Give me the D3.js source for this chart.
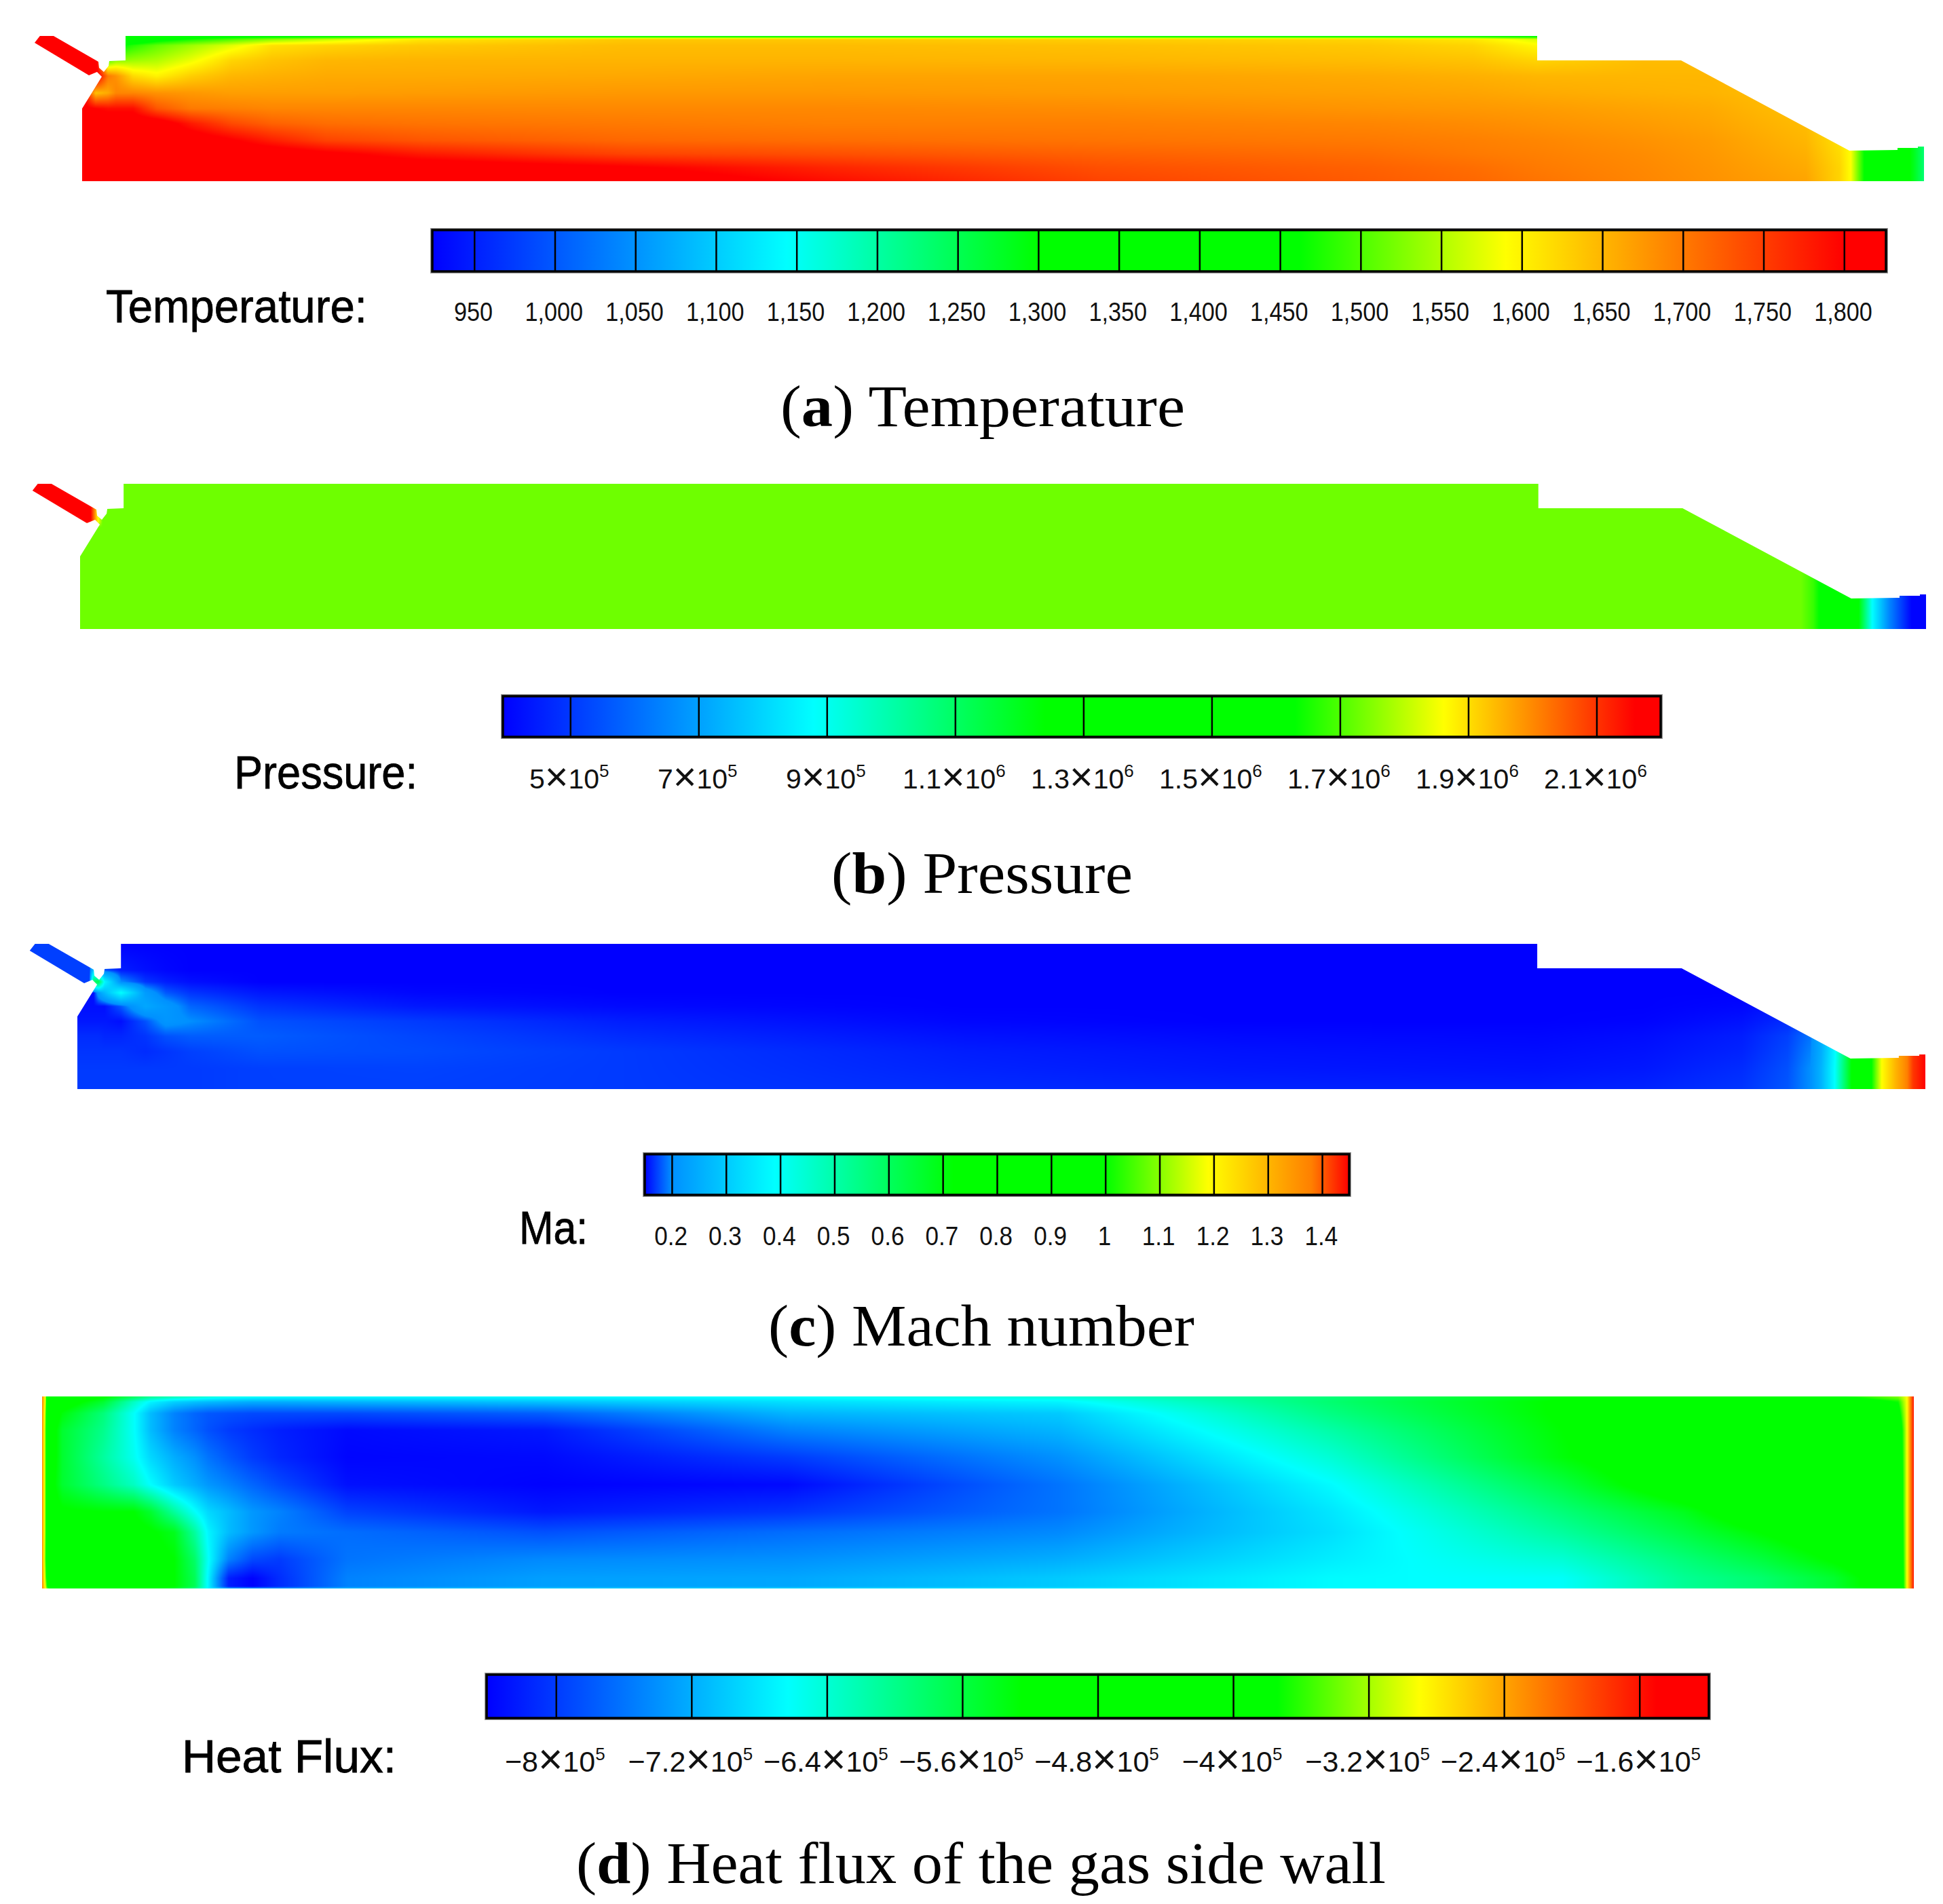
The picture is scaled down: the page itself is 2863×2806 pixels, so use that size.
<!DOCTYPE html>
<html>
<head>
<meta charset="utf-8">
<style>
  html, body { margin: 0; padding: 0; background: #fff; overflow: hidden; }
  svg { display: block; }
</style>
</head>
<body>
<div id="chart"></div>
<script src="https://d3js.org/d3.v7.min.js"></script>
<script>
// wall shape of the chamber, shared by panels a, b, c
const outlineX = [0, 0, 29, 22, 10, -70, -56, 24, 25, 32, 39, 40, 64, 64, 2144, 2144, 2356, 2604, 2675, 2675, 2705, 2705, 2714, 2714];
const outlineY = [0, 107, 154, 161, 156, 204, 222, 176, 167, 161, 170, 177, 178, 214, 214, 178, 178, 45, 46, 49, 49, 51, 51, 0];
const wallOutlineX = [0, 0, 2758, 2758];
const wallOutlineY = [0, 283, 283, 0];

const rainbow = ['#0000ff', '#00ffff', '#00ff00', '#00ff00', '#ffff00', '#ff0000', '#ff0000'];
const machColors = ['#0000ff', '#0090ff', '#00ffff', '#00ff00', '#00ff00', '#ffff00', '#ff8000', '#ff0000'];

// temperature
const tempStops = [924, 1144, 1300, 1462, 1590, 1800, 1826];
const tempTicks = [950, 1000, 1050, 1100, 1150, 1200, 1250, 1300, 1350, 1400, 1450, 1500, 1550, 1600, 1650, 1700, 1750, 1800];
const tempLabels = ['950', '1,000', '1,050', '1,100', '1,150', '1,200', '1,250', '1,300', '1,350', '1,400', '1,450', '1,500', '1,550', '1,600', '1,650', '1,700', '1,750', '1,800'];
const tempX = [-70, 0, 20, 38, 50, 75, 110, 160, 220, 280, 360, 500, 800, 1100, 1500, 1900, 2050, 2144, 2300, 2400, 2540, 2590, 2606, 2626, 2680, 2700, 2714];
const tempY = [0, 20, 40, 60, 85, 107, 130, 155, 178, 200, 209, 214];
const tempRows = [
  [1830,1830,1830,1830,1830,1830,1830,1830,1830,1830,1830,1830,1830,1790,1745,1725,1715,1705,1690,1680,1665,1625,1590,1462,1340,1280,1230],
  [1830,1830,1830,1830,1830,1830,1830,1830,1830,1830,1830,1830,1805,1770,1735,1720,1710,1700,1688,1678,1660,1625,1590,1462,1340,1280,1230],
  [1830,1830,1830,1830,1830,1830,1830,1830,1830,1830,1810,1780,1745,1735,1720,1710,1700,1695,1685,1675,1655,1620,1590,1462,1340,1280,1230],
  [1830,1830,1830,1830,1830,1830,1830,1830,1805,1775,1745,1730,1715,1710,1705,1700,1695,1690,1680,1672,1650,1615,1590,1462,1340,1280,1230],
  [1830,1830,1830,1830,1830,1830,1830,1780,1740,1720,1710,1705,1700,1695,1695,1690,1685,1680,1672,1665,1645,1610,1585,1462,1340,1280,1230],
  [1830,1810,1800,1790,1790,1790,1730,1700,1695,1690,1690,1690,1688,1688,1685,1678,1675,1672,1665,1660,1640,1605,1585,1462,1340,1280,1230],
  [1830,1830,1640,1660,1690,1690,1680,1675,1670,1670,1670,1672,1675,1675,1672,1668,1665,1660,1655,1652,1640,1605,1585,1462,1340,1280,1230],
  [1830,1830,1830,1700,1680,1620,1600,1630,1650,1655,1660,1660,1662,1665,1665,1660,1655,1650,1650,1650,1640,1605,1585,1462,1340,1280,1230],
  [1830,1830,1830,1500,1530,1540,1550,1580,1625,1640,1650,1652,1652,1652,1650,1645,1640,1625,1645,1645,1640,1605,1585,1462,1340,1280,1230],
  [1830,1830,1830,1440,1450,1480,1510,1540,1575,1615,1625,1635,1645,1645,1642,1635,1625,1595,1640,1640,1640,1605,1585,1462,1340,1280,1230],
  [1830,1830,1830,1380,1380,1400,1440,1470,1500,1530,1560,1610,1635,1635,1630,1625,1610,1570,1640,1640,1640,1605,1585,1462,1340,1280,1230],
  [1830,1830,1830,1400,1400,1400,1420,1430,1430,1430,1430,1430,1430,1430,1430,1430,1430,1430,1640,1640,1640,1605,1585,1462,1340,1280,1230]
];

// pressure, in units of 10^5
const presStops = [3.95, 8.8, 12.4, 16.3, 18.62, 21.6, 22.0];
const presTicks = [5, 7, 9, 11, 13, 15, 17, 19, 21];
const presLabels = ['5×10^5', '7×10^5', '9×10^5', '1.1×10^6', '1.3×10^6', '1.5×10^6', '1.7×10^6', '1.9×10^6', '2.1×10^6'];
const presX = [-70, 15, 25, 33, 2530, 2548, 2562, 2606, 2615, 2635, 2660, 2693, 2714];
const presY = [0, 150, 158, 214];
const presRows = [
  [17.3,17.3,17.3,17.3,17.3,16.8,16,13,12.4,8.8,6.5,4,4],
  [17.3,17.3,17.3,17.3,17.3,16.8,16,13,12.4,8.8,6.5,4,4],
  [21.8,21.8,19,17.3,17.3,16.8,16,13,12.4,8.8,6.5,4,4],
  [21.8,21.8,19,17.3,17.3,16.8,16,13,12.4,8.8,6.5,4,4]
];

// mach number
const machStops = [0.15, 0.2, 0.39, 0.72, 1.0, 1.19, 1.38, 1.45];
const machTicks = [0.2, 0.3, 0.4, 0.5, 0.6, 0.7, 0.8, 0.9, 1, 1.1, 1.2, 1.3, 1.4];
const machLabels = ['0.2', '0.3', '0.4', '0.5', '0.6', '0.7', '0.8', '0.9', '1', '1.1', '1.2', '1.3', '1.4'];
const machX = [-70, 0, 18, 24, 31, 40, 64, 100, 130, 166, 269, 500, 800, 1300, 1700, 2144, 2300, 2445, 2512, 2545, 2561, 2581, 2608, 2635, 2650, 2670, 2696, 2714];
const machY = [0, 30, 55, 78, 100, 122, 142, 158, 175, 214];
const machRows = [
  [.17,.17,.17,.17,.17,.17,.17,.17,.17,.17,.172,.172,.17,.165,.162,.16,.162,.168,.18,.2,.26,.39,.75,1,1.19,1.3,1.42,1.45],
  [.17,.17,.17,.17,.17,.17,.17,.17,.17,.17,.172,.173,.17,.162,.158,.156,.158,.165,.178,.2,.26,.39,.75,1,1.19,1.3,1.42,1.45],
  [.168,.168,.168,.168,.168,.168,.168,.165,.168,.172,.178,.176,.17,.16,.156,.154,.156,.162,.175,.195,.25,.38,.75,1,1.19,1.3,1.42,1.45],
  [.165,.165,.165,.165,.165,.163,.163,.168,.178,.182,.182,.174,.165,.156,.153,.152,.154,.16,.172,.19,.25,.37,.75,1,1.19,1.3,1.42,1.45],
  [.158,.158,.158,.158,.158,.158,.155,.178,.21,.2,.178,.17,.16,.152,.15,.15,.151,.156,.165,.18,.23,.34,.75,1,1.19,1.3,1.42,1.45],
  [.155,.155,.155,.155,.155,.155,.18,.24,.215,.185,.168,.158,.153,.15,.15,.15,.15,.152,.16,.17,.2,.3,.75,1,1.19,1.3,1.42,1.45],
  [.155,.155,.155,.155,.22,.27,.39,.22,.18,.168,.158,.152,.15,.15,.15,.15,.15,.15,.15,.15,.15,.15,.15,.15,.15,.15,.15,.15],
  [.172,.172,.172,.6,.62,.38,.2,.168,.16,.155,.15,.15,.15,.15,.15,.15,.15,.15,.15,.15,.15,.15,.15,.15,.15,.15,.15,.15],
  [.172,.172,.172,.3,.2,.18,.16,.155,.152,.15,.15,.15,.15,.15,.15,.15,.15,.15,.15,.15,.15,.15,.15,.15,.15,.15,.15,.15],
  [.172,.172,.172,.16,.15,.15,.15,.15,.15,.15,.15,.15,.15,.15,.15,.15,.15,.15,.15,.15,.15,.15,.15,.15,.15,.15,.15,.15]
];

// heat flux, in units of 10^5. rows run from the top edge down
const heatStops = [-8.41, -6.63, -5.25, -3.74, -2.9, -1.5, -1.19];
const heatTicks = [-8, -7.2, -6.4, -5.6, -4.8, -4, -3.2, -2.4, -1.6];
const heatLabels = ['−8×10^5', '−7.2×10^5', '−6.4×10^5', '−5.6×10^5', '−4.8×10^5', '−4×10^5', '−3.2×10^5', '−2.4×10^5', '−1.6×10^5'];
const heatX = [0, 5, 8, 30, 90, 135, 160, 195, 225, 245, 275, 310, 350, 450, 740, 1100, 1500, 1900, 2240, 2420, 2530, 2640, 2735, 2748, 2758];
const heatY = [0, 8, 25, 50, 90, 130, 170, 200, 240, 268, 280, 283];
const heatRows = [
  [-2.2,-3,-4.5,-4.8,-5.2,-5.7,-6,-6.2,-6.3,-6.4,-6.5,-6.55,-6.6,-6.63,-6.63,-6.6,-6.4,-5.9,-5.3,-4.8,-3.9,-3.8,-3.3,-2.9,-1.6],
  [-2.2,-3,-4.6,-5,-5.5,-6.3,-6.7,-6.95,-7.05,-7.1,-7.15,-7.2,-7.2,-7.15,-7.05,-6.85,-6.7,-5.85,-5.2,-4.8,-4.3,-4.3,-3.7,-2.9,-1.6],
  [-2.2,-3.2,-4.8,-5.3,-5.9,-6.6,-7.1,-7.5,-7.7,-7.8,-7.85,-7.9,-7.9,-7.9,-7.75,-7.15,-7,-5.95,-5.2,-4.8,-4.5,-4.5,-4,-2.9,-1.6],
  [-2.2,-3.3,-4.9,-5.5,-6,-6.6,-7.1,-7.5,-7.7,-7.85,-8,-8.1,-8.2,-8.35,-8.25,-7.5,-7.15,-6.15,-5.25,-4.8,-4.6,-4.6,-4.4,-2.9,-1.6],
  [-2.2,-3.3,-4.9,-5.5,-6.1,-6.55,-6.9,-7.2,-7.4,-7.6,-7.8,-8,-8.15,-8.38,-8.35,-8,-7.4,-6.4,-5.3,-4.8,-4.7,-4.6,-4.5,-2.9,-1.6],
  [-2.2,-3.3,-5,-5.5,-5.95,-6.3,-6.63,-7,-7.2,-7.35,-7.5,-7.7,-7.9,-8.3,-8.4,-8.35,-7.6,-6.65,-5.6,-4.9,-4.75,-4.7,-4.6,-2.9,-1.6],
  [-2.2,-3.3,-5,-5.2,-5.25,-5.25,-5.5,-6.1,-6.6,-6.9,-7.1,-7.35,-7.5,-7.95,-8.25,-8.05,-7.6,-6.8,-5.9,-5.4,-4.9,-4.7,-4.6,-2.9,-1.6],
  [-2.2,-3.3,-5,-5.1,-5.1,-5.1,-5.2,-5.4,-6.1,-6.7,-7.1,-7.35,-7.55,-7.65,-7.85,-7.65,-7.45,-6.85,-6.1,-5.6,-5.25,-4.9,-4.7,-2.9,-1.6],
  [-2.2,-3.4,-4.9,-5,-5,-5,-5.1,-5.25,-5.8,-6.6,-7.5,-7.9,-8,-7.6,-7.45,-7.4,-7.2,-6.75,-6.4,-5.9,-5.6,-5.2,-4.8,-2.9,-1.6],
  [-2.2,-3.2,-4.2,-5,-5,-5,-5.1,-5.25,-5.7,-6.7,-8.2,-8.4,-8.1,-7.5,-7.3,-7.25,-7,-6.65,-6.6,-6.05,-5.85,-5.5,-4.9,-2.9,-1.6],
  [-2.2,-3,-3.8,-5,-5,-5,-5.1,-5.25,-5.7,-6.7,-8.2,-8.4,-8.1,-7.5,-7.3,-7.25,-7,-6.65,-6.6,-6.05,-5.85,-5.5,-4.9,-2.9,-1.6],
  [-2.2,-2.9,-3.5,-5,-5.1,-5.2,-5.3,-5.5,-6,-6.7,-7.2,-7.3,-7.3,-7.1,-7,-6.9,-6.8,-6.65,-6.63,-6.1,-5.9,-5.6,-5.2,-2.9,-1.6]
];

const panels = [
  { id: 'a', gx: tempX, gy: tempY, rows: tempRows, stops: tempStops, colors: rainbow, ticks: tempTicks, labels: tempLabels,
    ox: outlineX, oy: outlineY, xDomain: [0, 2714], xRange: [121, 2835], yDomain: [0, 214], yRange: [267, 53],
    bar: [637, 2779, 339, 400], labelY: 473, labelSize: 38, labelStretch: 0.9,
    name: 'Temperature:', nameX: [156, 541], nameY: 475,
    letter: 'a', rest: ' Temperature', capX: [1150, 1746], capY: 628 },
  { id: 'b', gx: presX, gy: presY, rows: presRows, stops: presStops, colors: rainbow, ticks: presTicks, labels: presLabels,
    ox: outlineX, oy: outlineY, xDomain: [0, 2714], xRange: [118, 2838], yDomain: [0, 214], yRange: [927, 713],
    bar: [741, 2447, 1026, 1086], labelY: 1162, labelSize: 41, labelStretch: 1,
    name: 'Pressure:', nameX: [345, 615], nameY: 1162,
    letter: 'b', rest: ' Pressure', capX: [1225, 1669], capY: 1316 },
  { id: 'c', gx: machX, gy: machY, rows: machRows, stops: machStops, colors: machColors, ticks: machTicks, labels: machLabels,
    ox: outlineX, oy: outlineY, xDomain: [0, 2714], xRange: [114, 2837], yDomain: [0, 214], yRange: [1605, 1391],
    bar: [950, 1988, 1701, 1761], labelY: 1835, labelSize: 39, labelStretch: 0.9,
    name: 'Ma:', nameX: [765, 866], nameY: 1833,
    letter: 'c', rest: ' Mach number', capX: [1132, 1760], capY: 1983 },
  { id: 'd', gx: heatX, gy: heatY, rows: heatRows, stops: heatStops, colors: rainbow, ticks: heatTicks, labels: heatLabels,
    ox: wallOutlineX, oy: wallOutlineY, xDomain: [0, 2758], xRange: [62, 2820], yDomain: [0, 283], yRange: [2058, 2341],
    bar: [717, 2518, 2468, 2532], labelY: 2611, labelSize: 43, labelStretch: 1,
    name: 'Heat Flux:', nameX: [268, 584], nameY: 2612,
    letter: 'd', rest: ' Heat flux of the gas side wall', capX: [849, 2042], capY: 2775 }
];

const svg = d3.select('#chart').append('svg')
  .attr('width', 2863)
  .attr('height', 2806);

const sans = '"Liberation Sans", Arial, sans-serif';
const serif = '"Liberation Serif", "Times New Roman", serif';

// squeeze a text so that it runs from x0 to x1
function fitText(text, x0, x1, y) {
  const w = text.node().getComputedTextLength();
  text.attr('text-anchor', 'start')
    .attr('transform', `translate(${x0},${y}) scale(${(x1 - x0) / w},1)`);
}

// read a field value from its grid, straight lines between the nodes
function fieldValue(p, mx, my) {
  const i = Math.max(0, Math.min(p.gx.length - 2, d3.bisectRight(p.gx, mx) - 1));
  const j = Math.max(0, Math.min(p.gy.length - 2, d3.bisectRight(p.gy, my) - 1));
  const tx = Math.max(0, Math.min(1, (mx - p.gx[i]) / (p.gx[i + 1] - p.gx[i])));
  const ty = Math.max(0, Math.min(1, (my - p.gy[j]) / (p.gy[j + 1] - p.gy[j])));
  const low = p.rows[j][i] * (1 - tx) + p.rows[j][i + 1] * tx;
  const high = p.rows[j + 1][i] * (1 - tx) + p.rows[j + 1][i + 1] * tx;
  return low * (1 - ty) + high * ty;
}

panels.forEach(p => {
  const g = svg.append('g').attr('class', 'panel-' + p.id);

  const x = d3.scaleLinear().domain(p.xDomain).range(p.xRange);
  const y = d3.scaleLinear().domain(p.yDomain).range(p.yRange);
  const color = d3.scaleLinear().domain(p.stops).range(p.colors).clamp(true);

  // colour field on a canvas
  const left = Math.floor(x(d3.min(p.gx)));
  const right = Math.ceil(x(d3.max(p.gx)));
  const top = Math.floor(Math.min(...p.yRange));
  const bottom = Math.ceil(Math.max(...p.yRange));
  const canvas = document.createElement('canvas');
  canvas.width = right - left;
  canvas.height = bottom - top;
  const ctx = canvas.getContext('2d');
  const img = ctx.createImageData(canvas.width, canvas.height);
  for (let py = 0; py < canvas.height; py++) {
    const my = y.invert(top + py + 0.5);
    for (let px = 0; px < canvas.width; px++) {
      const c = d3.rgb(color(fieldValue(p, x.invert(left + px + 0.5), my)));
      const k = (py * canvas.width + px) * 4;
      img.data[k] = c.r;
      img.data[k + 1] = c.g;
      img.data[k + 2] = c.b;
      img.data[k + 3] = 255;
    }
  }
  ctx.putImageData(img, 0, 0);

  // clip the field to the wall shape
  const wall = d3.line().x(d => x(d[0])).y(d => y(d[1]));
  g.append('clipPath').attr('id', 'wall-' + p.id)
    .append('path')
    .attr('d', wall(d3.zip(p.ox, p.oy)) + 'Z');
  g.append('image')
    .attr('x', left)
    .attr('y', top)
    .attr('width', canvas.width)
    .attr('height', canvas.height)
    .attr('href', canvas.toDataURL())
    .attr('clip-path', `url(#wall-${p.id})`);

  // colour bar
  const [bx0, bx1, by0, by1] = p.bar;
  const barScale = d3.scaleLinear()
    .domain([p.stops[0], p.stops[p.stops.length - 1]])
    .range([bx0, bx1]);
  const grad = svg.append('defs').append('linearGradient')
    .attr('id', 'grad-' + p.id);
  grad.selectAll('stop')
    .data(p.stops)
    .join('stop')
    .attr('offset', d => (barScale(d) - bx0) / (bx1 - bx0))
    .attr('stop-color', (d, i) => p.colors[i]);

  g.append('rect')
    .attr('x', bx0).attr('y', by0)
    .attr('width', bx1 - bx0).attr('height', by1 - by0)
    .attr('fill', 'none').attr('stroke', '#9a9a9a').attr('stroke-width', 6);
  g.append('rect')
    .attr('x', bx0).attr('y', by0)
    .attr('width', bx1 - bx0).attr('height', by1 - by0)
    .attr('fill', `url(#grad-${p.id})`).attr('stroke', '#000').attr('stroke-width', 3.5);

  // ticks across the bar, labels under it
  const axis = d3.axisBottom(barScale)
    .tickValues(p.ticks)
    .tickSize(-(by1 - by0))
    .tickFormat((d, i) => p.labels[i]);
  const axisG = g.append('g')
    .attr('transform', `translate(0,${by1})`)
    .call(axis);
  axisG.select('.domain').remove();
  axisG.selectAll('.tick line').attr('stroke', '#000').attr('stroke-width', 2.5);
  axisG.selectAll('.tick text').each(function(d, i) {
    const [number, power] = p.labels[i].split('^');
    const [mantissa, base] = number.split('×');
    const t = d3.select(this)
      .text(mantissa)
      .attr('x', -2)
      .attr('y', p.labelY - by1)
      .attr('dy', 0)
      .attr('fill', '#111')
      .attr('font-family', sans)
      .attr('font-size', p.labelSize)
      .attr('transform', `scale(${p.labelStretch},1)`);
    if (base) {
      t.append('tspan').attr('font-size', p.labelSize * 1.45).attr('dy', 3).text('×');
      t.append('tspan').attr('dy', -3).text(base);
      t.append('tspan').attr('dy', -17).attr('font-size', 26).text(power);
    }
  });

  // name of the quantity
  const name = g.append('text')
    .attr('font-family', sans)
    .attr('font-size', 68)
    .attr('fill', '#000')
    .attr('stroke', '#000')
    .attr('stroke-width', 0.8)
    .text(p.name);
  fitText(name, p.nameX[0], p.nameX[1], p.nameY);

  // caption
  const cap = g.append('text')
    .attr('font-family', serif)
    .attr('font-size', 86)
    .attr('fill', '#000');
  cap.append('tspan').text('(');
  cap.append('tspan').attr('font-weight', 'bold').text(p.letter);
  cap.append('tspan').text(')' + p.rest);
  fitText(cap, p.capX[0], p.capX[1], p.capY);
});
</script>
</body>
</html>
